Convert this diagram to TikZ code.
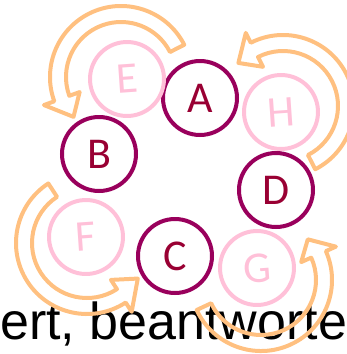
\documentclass[tikz,border=0pt]{standalone}
\usepackage{fontspec}
\setmainfont{Carlito}
\newfontfamily\slidefont{Liberation Sans}
\definecolor{ringdark}{RGB}{153,0,92}
\definecolor{letterdark}{RGB}{153,0,51}
\definecolor{ringlight}{RGB}{255,192,216}
\definecolor{turncolor}{RGB}{255,192,128}

\tikzset{
  ring/.style={circle, line width=4pt, minimum size=74pt, inner sep=0pt, font=\fontsize{44}{44}\selectfont},
  darkring/.style={ring, draw=ringdark, text=letterdark},
  lightring/.style={ring, draw=ringlight, text=ringlight, rotate=4},
  turnarrow/.style={draw=turncolor, line width=4pt, line join=round}
}

% centre, tail angle, head angle, tip angle
\newcommand{\turnback}[4]{%
  \draw[turnarrow, shift={#1}] (#2:71) arc[start angle=#2, end angle=#3, radius=71]
    -- (#3:82) -- (#4:62) -- (#3:44) -- (#3:55)
    arc[start angle=#3, end angle=#2, radius=55] -- cycle;
}

\begin{document}
\begin{tikzpicture}[x=1pt, y=-1pt]
  \useasboundingbox (0,0) rectangle (347,354);

  % Text line
  \node[anchor=base west, inner sep=0pt, font=\slidefont\fontsize{52}{52}\selectfont] (line) at (0,339) {ert, beantworte};

  % Dark rings
  \node[darkring] (A) at (200,98) {A};
  \node[darkring] (B) at (99,154) {B};
  \node[darkring] (C) at (175,256) {C};
  \node[darkring] (D) at (276,190) {D};

  % Light rings
  \node[lightring] (E) at (127,79) {E};
  \node[lightring] (F) at (86,237) {F};
  \node[lightring] (G) at (257,268) {G};
  \node[lightring] (H) at (281,112) {H};

  % Turn arrows
  \turnback{(121,77)}{-27}{-200}{-220}
  \turnback{(283,106)}{63}{-117}{-136}
  \turnback{(87,243)}{-123}{-303}{-325}
  \turnback{(261,280)}{155}{-24}{-41}
\end{tikzpicture}
\end{document}
